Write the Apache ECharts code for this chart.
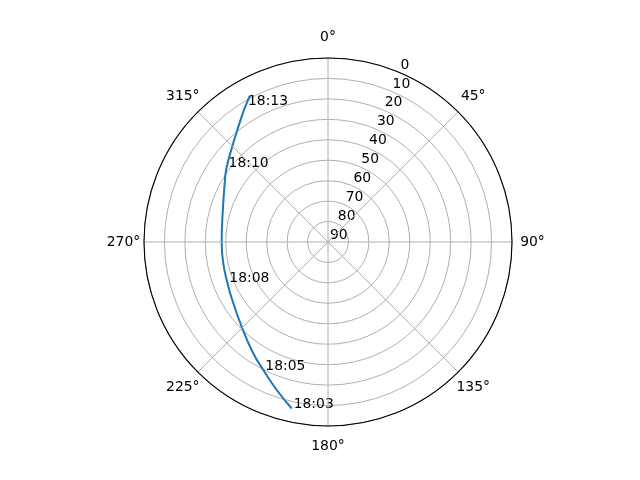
<!DOCTYPE html>
<html>
<head>
<meta charset="utf-8">
<script src="https://cdn.jsdelivr.net/npm/echarts@6/dist/echarts.min.js"></script>
<style>
html,body{margin:0;padding:0;background:#fff;}
#chart{width:640px;height:480px;}
</style>
</head>
<body>
<div id="chart"></div>
<script>
// Satellite pass: azimuth (deg, clockwise from N) and elevation (deg)
var pathAz = [192.3, 199.1, 206.8, 213.9, 225.5, 239.7, 248.2, 258.5, 269.8, 285.2, 301.0, 306.2, 314.2, 320.4, 327.0, 329.1, 331.9];
var pathEl = [6.65, 13.4, 19.85, 24.45, 30.85, 35.44, 36.95, 37.74, 38.0, 36.6, 31.2, 28.5, 24.3, 20.0, 14.0, 11.9, 8.9];
var pathTime = ['18:03', '', '18:05', '', '', '', '18:08', '', '', '', '', '18:10', '', '', '', '18:13', ''];
var radiusTicks = [0, 10, 20, 30, 40, 50, 60, 70, 80, 90];
var rLabelAngle = 22.5;

var FONT = 'DejaVu Sans';
var FS = 13.9;

var lineData = [];
var timeData = [];
for (var i = 0; i < pathAz.length; i++) {
  lineData.push([pathEl[i], pathAz[i]]);
  if (pathTime[i]) timeData.push({ value: [pathEl[i], pathAz[i]], name: pathTime[i] });
}
var rLabelData = radiusTicks.map(function (v) { return { value: [v, rLabelAngle], name: String(v) }; });

var chart = echarts.init(document.getElementById('chart'), null, { renderer: 'canvas' });
chart.setOption({
  backgroundColor: '#ffffff',
  animation: false,
  polar: { center: [328, 242], radius: 184 },
  angleAxis: {
    type: 'value', min: 0, max: 360, interval: 45, startAngle: 90, clockwise: true,
    z: 5,
    axisLine: { show: true, lineStyle: { color: '#000', width: 1.1 } },
    axisTick: { show: false },
    axisLabel: {
      margin: 18.5,
      formatter: function (v) { return v >= 360 ? '' : '{a|' + v + '°}'; },
      rich: { a: { width: 4, height: 4, lineHeight: 4, align: 'center', verticalAlign: 'middle', fontSize: FS, fontFamily: FONT, color: '#000' } }
    },
    splitLine: { show: true, lineStyle: { color: '#b0b0b0', width: 1 } }
  },
  radiusAxis: {
    type: 'value', min: 0, max: 90, interval: 10, inverse: true,
    axisLine: { show: false }, axisTick: { show: false }, axisLabel: { show: false },
    splitLine: { show: true, lineStyle: { color: '#b0b0b0', width: 1 } }
  },
  series: [
    {
      type: 'scatter', coordinateSystem: 'polar', data: rLabelData, symbolSize: 0, silent: true,
      itemStyle: { opacity: 1, color: '#000' },
      label: { show: true, position: 'right', distance: 0, verticalAlign: 'bottom', offset: [2, 0], opacity: 1,
        formatter: function (p) { return p.name; }, fontSize: FS, fontFamily: FONT, color: '#000' }
    },
    {
      type: 'line', coordinateSystem: 'polar', data: lineData, showSymbol: false, smooth: true,
      lineStyle: { color: '#1f77b4', width: 2 }, itemStyle: { color: '#1f77b4' }
    },
    {
      type: 'scatter', coordinateSystem: 'polar', data: timeData, symbolSize: 0, silent: true,
      itemStyle: { opacity: 1, color: '#000' },
      label: { show: true, position: 'right', distance: 0, verticalAlign: 'bottom', offset: [2, 3], opacity: 1,
        formatter: function (p) { return p.name; }, fontSize: FS, fontFamily: FONT, color: '#000' }
    }
  ]
});
</script>
</body>
</html>
